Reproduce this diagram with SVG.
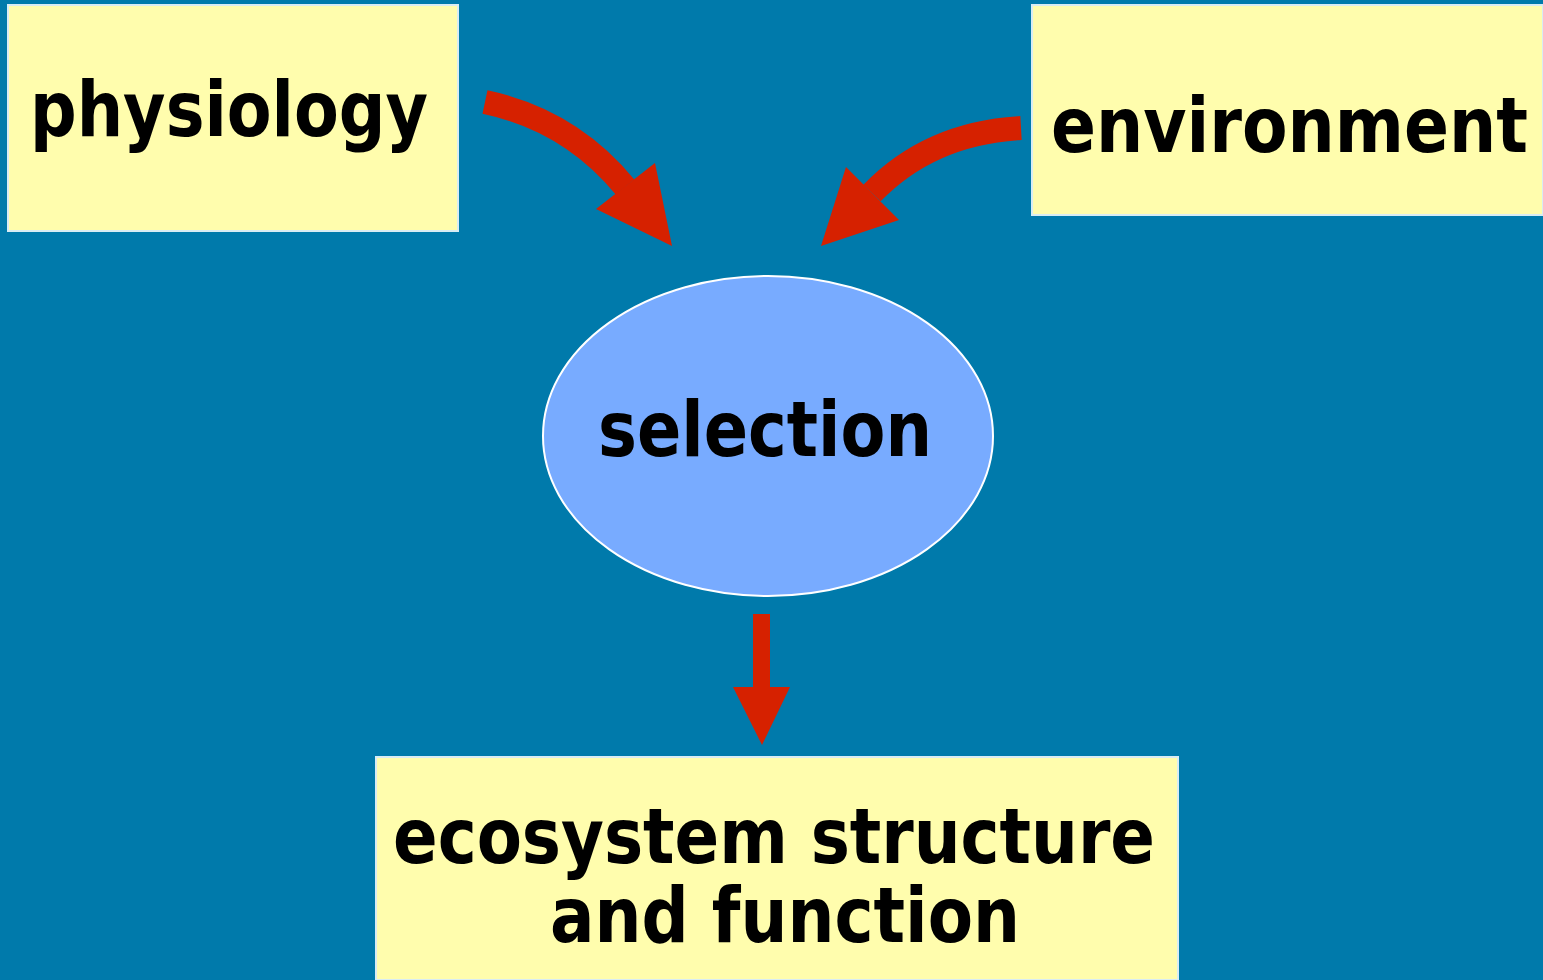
<svg xmlns="http://www.w3.org/2000/svg" width="1543" height="980" viewBox="0 0 1543 980">
  <style>
    .box { fill: #FFFDAD; stroke: #D8ECF4; stroke-width: 2; }
    .oval { fill: #78ABFF; stroke: #FFFFFF; stroke-width: 2; }
    .label { font-family: "DejaVu Sans", Verdana, sans-serif; font-weight: bold; fill: #000000; }
    .shaft { fill: none; stroke: #D62100; stroke-width: 24; }
    .head { fill: #D62100; }
  </style>
  <rect width="1543" height="980" fill="#007AAB"/>

  <g id="physiology">
    <rect class="box" x="8" y="5" width="450" height="226"/>
    <text class="label" x="30" y="136" font-size="76" textLength="398" lengthAdjust="spacingAndGlyphs">physiology</text>
  </g>

  <g id="environment">
    <rect class="box" x="1032" y="5" width="511" height="210"/>
    <text class="label" x="1051" y="152" font-size="76" textLength="477" lengthAdjust="spacingAndGlyphs">environment</text>
  </g>

  <g id="selection">
    <ellipse class="oval" cx="768" cy="436" rx="225" ry="160"/>
    <text class="label" x="598" y="456" font-size="76" textLength="334" lengthAdjust="spacingAndGlyphs">selection</text>
  </g>

  <g id="ecosystem">
    <rect class="box" x="376" y="757" width="802" height="223"/>
    <text class="label" x="393" y="863" font-size="76" textLength="762" lengthAdjust="spacingAndGlyphs">ecosystem structure</text>
    <text class="label" x="550" y="942" font-size="76" textLength="470" lengthAdjust="spacingAndGlyphs">and function</text>
  </g>

  <g id="connectors">
    <!-- physiology to selection -->
    <path class="shaft" d="M485,102 Q570,120 625,187"/>
    <polygon class="head" points="596,209 655,163 672,246"/>
    <!-- environment to selection -->
    <path class="shaft" d="M1021,128 Q930,133 872,193"/>
    <polygon class="head" points="846,167 899,220 821,246"/>
    <!-- selection to ecosystem -->
    <rect class="head" x="753" y="614" width="17" height="75"/>
    <polygon class="head" points="733,687 790,687 762,745"/>
  </g>
</svg>
